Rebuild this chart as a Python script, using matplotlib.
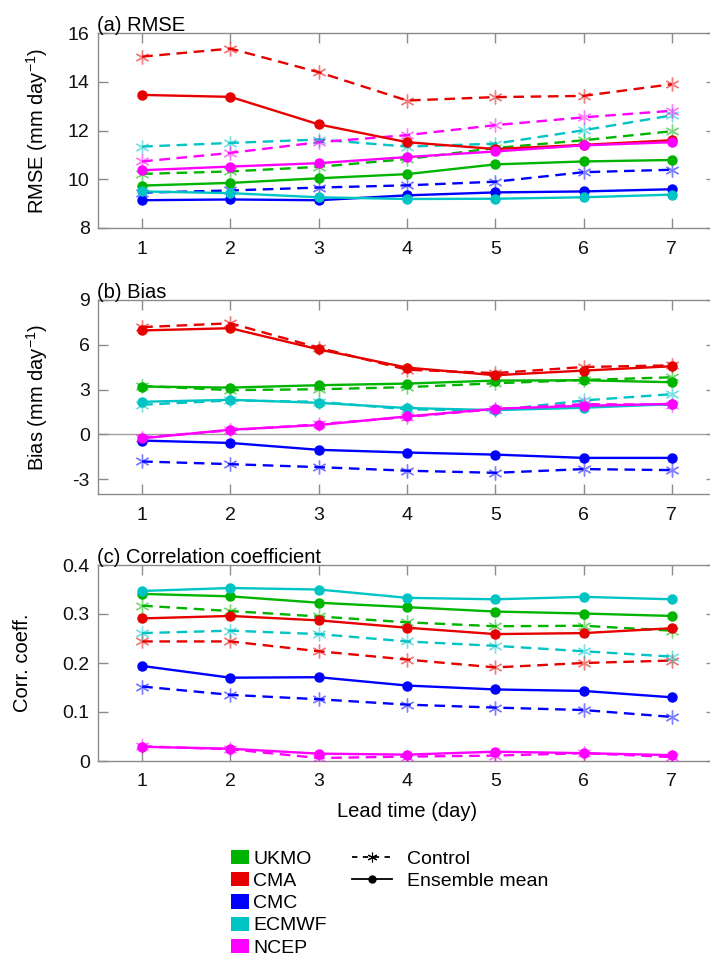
import matplotlib
matplotlib.use("Agg")
import matplotlib.pyplot as plt
from matplotlib.lines import Line2D
from matplotlib.patches import Patch

plt.rcParams['font.family'] = ['Liberation Sans', 'DejaVu Sans']
plt.rcParams['mathtext.fontset'] = 'custom'
plt.rcParams['mathtext.rm'] = 'Liberation Sans'
plt.rcParams['mathtext.it'] = 'Liberation Sans:italic'
plt.rcParams['mathtext.default'] = 'regular'

days = [1, 2, 3, 4, 5, 6, 7]
models = ['UKMO', 'CMA', 'CMC', 'ECMWF', 'NCEP']
colors = {'UKMO': '#00b400', 'CMA': '#e60000', 'CMC': '#0000ff',
          'ECMWF': '#00c4c4', 'NCEP': '#ff00ff'}

# RMSE (mm/day)
rmse_ens = {
    'UKMO':  [9.74, 9.85, 10.04, 10.21, 10.61, 10.73, 10.79],
    'CMA':   [13.46, 13.38, 12.25, 11.52, 11.24, 11.41, 11.60],
    'CMC':   [9.14, 9.17, 9.14, 9.34, 9.46, 9.50, 9.59],
    'ECMWF': [9.50, 9.43, 9.26, 9.19, 9.20, 9.26, 9.37],
    'NCEP':  [10.37, 10.52, 10.66, 10.91, 11.14, 11.39, 11.52],
}
rmse_ctl = {
    'UKMO':  [10.22, 10.32, 10.51, 10.83, 11.28, 11.60, 11.97],
    'CMA':   [15.03, 15.36, 14.39, 13.23, 13.37, 13.42, 13.90],
    'CMC':   [9.45, 9.54, 9.66, 9.75, 9.90, 10.29, 10.39],
    'ECMWF': [11.34, 11.49, 11.63, 11.34, 11.46, 12.01, 12.62],
    'NCEP':  [10.73, 11.08, 11.52, 11.81, 12.22, 12.54, 12.81],
}
# Bias (mm/day)
bias_ens = {
    'UKMO':  [3.20, 3.13, 3.29, 3.40, 3.60, 3.62, 3.49],
    'CMA':   [6.96, 7.11, 5.69, 4.47, 3.96, 4.27, 4.56],
    'CMC':   [-0.42, -0.58, -1.04, -1.22, -1.36, -1.58, -1.58],
    'ECMWF': [2.18, 2.31, 2.11, 1.76, 1.62, 1.78, 2.02],
    'NCEP':  [-0.27, 0.31, 0.62, 1.20, 1.71, 1.91, 2.04],
}
bias_ctl = {
    'UKMO':  [3.24, 2.96, 3.02, 3.16, 3.42, 3.64, 3.82],
    'CMA':   [7.18, 7.44, 5.80, 4.33, 4.10, 4.51, 4.62],
    'CMC':   [-1.82, -2.00, -2.20, -2.44, -2.58, -2.33, -2.40],
    'ECMWF': [1.98, 2.27, 2.18, 1.67, 1.60, 2.27, 2.69],
    'NCEP':  [-0.22, 0.27, 0.67, 1.16, 1.69, 2.02, 1.98],
}
# Correlation coefficient
corr_ens = {
    'UKMO':  [0.341, 0.336, 0.323, 0.314, 0.305, 0.301, 0.296],
    'CMA':   [0.291, 0.296, 0.287, 0.272, 0.259, 0.261, 0.271],
    'CMC':   [0.194, 0.170, 0.171, 0.154, 0.146, 0.143, 0.130],
    'ECMWF': [0.347, 0.353, 0.350, 0.333, 0.330, 0.335, 0.330],
    'NCEP':  [0.029, 0.025, 0.015, 0.013, 0.019, 0.016, 0.012],
}
corr_ctl = {
    'UKMO':  [0.317, 0.306, 0.295, 0.283, 0.275, 0.276, 0.266],
    'CMA':   [0.244, 0.244, 0.224, 0.207, 0.191, 0.200, 0.205],
    'CMC':   [0.152, 0.135, 0.126, 0.115, 0.109, 0.104, 0.090],
    'ECMWF': [0.261, 0.266, 0.259, 0.244, 0.235, 0.224, 0.213],
    'NCEP':  [0.030, 0.024, 0.006, 0.009, 0.011, 0.016, 0.008],
}

panel_titles = ['(a) RMSE', '(b) Bias', '(c) Correlation coefficient']
ylabels = ['RMSE (mm day$^{-1}$)', 'Bias (mm day$^{-1}$)', 'Corr. coeff.']
yticks = [[8, 10, 12, 14, 16], [-3, 0, 3, 6, 9], [0, 0.1, 0.2, 0.3, 0.4]]
yticklabels = [['8', '10', '12', '14', '16'], ['-3', '0', '3', '6', '9'],
               ['0', '0.1', '0.2', '0.3', '0.4']]
ylims = [(8, 16), (-4, 9), (0, 0.4)]
xlabel = 'Lead time (day)'

W, H = 710, 956
fig = plt.figure(figsize=(W / 100, H / 100), dpi=100)

def px_axes(left, top, right, bottom):
    return fig.add_axes([left / W, 1 - bottom / H, (right - left) / W, (bottom - top) / H])

boxes = [(98, 33, 716, 228), (98, 300, 716, 494), (98, 565, 716, 761)]
datasets = [(rmse_ens, rmse_ctl), (bias_ens, bias_ctl), (corr_ens, corr_ctl)]
ylabel_x_px = [50, 50, 32]

grey = '#8c8c8c'
dash = (0, (4.5, 2.8))
LBL = 14.5
for i, (box, (ens, ctl)) in enumerate(zip(boxes, datasets)):
    ax = px_axes(*box)
    if i == 1:
        ax.axhline(0, color='#a0a0a0', lw=1.0, zorder=1)
    for m in models:
        c = colors[m]
        ax.plot(days, ctl[m], color=c, lw=1.7, linestyle=dash, zorder=2)
        ax.plot(days, ctl[m], linestyle='none', marker=(6, 2, 0), markersize=10,
                markeredgewidth=1.0, color=c, alpha=0.5, zorder=3)
        ax.plot(days, ens[m], color=c, lw=1.7, marker='o', markersize=6.5,
                zorder=4)
    ax.set_xlim(0.5, 7.5)
    ax.set_ylim(*ylims[i])
    ax.set_xticks(days)
    ax.set_xticklabels([str(d) for d in days])
    ax.set_yticks(yticks[i])
    ax.set_yticklabels(yticklabels[i])
    for s in ax.spines.values():
        s.set_color(grey)
        s.set_linewidth(1.0)
    ax.tick_params(direction='in', length=7, width=1.0, color=grey,
                   top=True, right=True, labelsize=14, labelcolor='#111111')
    ax.tick_params(axis='x', pad=9)
    ax.tick_params(axis='y', pad=6)
    ax.set_ylabel(ylabels[i], fontsize=LBL)
    bw = box[2] - box[0]
    ax.yaxis.set_label_coords((ylabel_x_px[i] - box[0]) / bw, 0.5)
    ax.set_title(panel_titles[i], loc='left', fontsize=LBL, pad=1.5, x=-0.002)
    if i == 2:
        ax.set_xlabel(xlabel, fontsize=LBL, labelpad=8)

# legends
model_handles = [Patch(facecolor=colors[m], edgecolor='none') for m in models]
leg1 = fig.legend(model_handles, models, loc='upper left',
                  bbox_to_anchor=(231 / W, 1 - 850 / H), frameon=False,
                  fontsize=14, handlelength=0.9, handleheight=0.75,
                  handletextpad=0.25, labelspacing=0.22, borderpad=0,
                  borderaxespad=0)
style_handles = [Line2D([0], [0], color='black', lw=1.3, linestyle=(0, (3, 3)),
                        marker=(6, 2, 0), markersize=7, markeredgewidth=0.8),
                 Line2D([0], [0], color='black', lw=1.3, marker='o', markersize=5)]
leg2 = fig.legend(style_handles, ['Control', 'Ensemble mean'], loc='upper left',
                  bbox_to_anchor=(352 / W, 1 - 850 / H), frameon=False,
                  fontsize=14, handlelength=2.05, handletextpad=0.8,
                  labelspacing=0.22, borderpad=0, borderaxespad=0)

fig.savefig('out.png', dpi=100)
